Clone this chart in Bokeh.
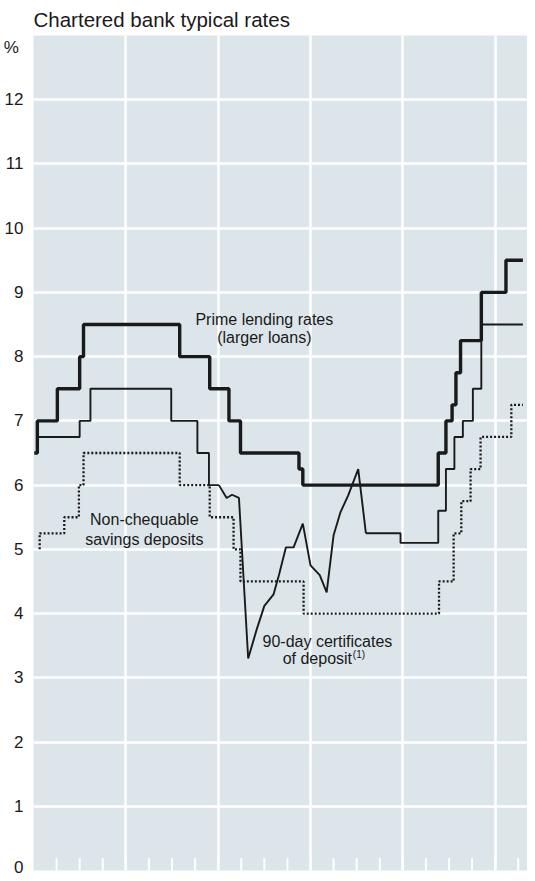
from bokeh.plotting import figure
from bokeh.models import FixedTicker, Label
from bokeh.embed import file_html
from bokeh.resources import INLINE

# ---- data (x = months from start of chart, y = percent) ----
prime_months = [0.1, 0.5, 3.1, 6.0, 6.5, 19.0, 22.9, 25.4, 26.9, 34.5, 35.0,
                52.6, 53.6, 54.4, 54.9, 55.5, 58.2, 61.4, 63.6]
prime_rates = [6.5, 7.0, 7.5, 8.0, 8.5, 8.0, 7.5, 7.0, 6.5, 6.25, 6.0,
               6.5, 7.0, 7.25, 7.75, 8.25, 9.0, 9.5, 9.5]

cd_early_months = [0.4, 6.0, 7.4, 17.9, 21.3, 22.8, 24.1]
cd_early_rates = [6.75, 7.0, 7.5, 7.0, 6.5, 6.0, 6.0]

cd_mid_months = [24.1, 25.1, 25.8, 26.7, 27.9, 29.0, 30.0, 31.2, 31.9, 32.8,
                 33.8, 35.0, 36.0, 37.2, 38.1, 39.0, 39.9, 40.9, 42.2, 43.2]
cd_mid_rates = [6.0, 5.8, 5.85, 5.8, 3.3, 3.75, 4.12, 4.3, 4.6, 5.03,
                5.03, 5.4, 4.75, 4.6, 4.33, 5.22, 5.58, 5.84, 6.25, 5.25]

cd_late_months = [43.2, 47.7, 52.6, 53.6, 54.7, 55.8, 57.1, 58.2, 63.6]
cd_late_rates = [5.25, 5.1, 5.6, 6.25, 6.75, 7.0, 7.5, 8.5, 8.5]

sav_months = [0.8, 0.8, 4.0, 5.9, 6.5, 19.0, 22.9, 26.0, 26.9, 35.1,
              52.7, 54.6, 55.6, 56.8, 58.1, 62.1, 63.6]
sav_rates = [5.0, 5.25, 5.5, 6.0, 6.5, 6.0, 5.5, 5.0, 4.5, 4.0,
             4.5, 5.25, 5.75, 6.25, 6.75, 7.25, 7.25]

y_ticks = list(range(0, 13))
unit_tick = 12.81          # where the "%" unit sits on the value axis
unit_label = "%"
year_lines = [12, 24, 36, 48, 60]
quarter_ticks = list(range(3, 64, 3))
notch_depth = 0.19         # in percent units

FONT = "Liberation Sans"
INK = "#1a1a1a"

p = figure(width=527, height=876, x_range=(0, 64.2), y_range=(0, 13),
           output_backend="svg", toolbar_location=None,
           title="Chartered bank typical rates",
           min_border_left=26, min_border_right=0, min_border_top=35,
           min_border_bottom=6)
p.title.text_font = FONT
p.title.text_font_size = "20.5px"
p.title.text_font_style = "normal"
p.title.text_color = INK
p.title.align = "left"
p.title.offset = 0
p.title.standoff = 10
p.title.text_line_height = 0.75

p.background_fill_color = "#dce5e9"
p.border_fill_color = "white"
p.outline_line_color = None

# grids
p.ygrid.ticker = FixedTicker(ticks=y_ticks[1:])
p.ygrid.grid_line_color = "white"
p.ygrid.grid_line_width = 2.5
p.xgrid.ticker = FixedTicker(ticks=year_lines)
p.xgrid.grid_line_color = "white"
p.xgrid.grid_line_width = 2.5

# y axis (numbers plus the unit sign)
p.yaxis.ticker = FixedTicker(ticks=y_ticks + [unit_tick])
p.yaxis.major_label_overrides = {unit_tick: unit_label + "\u00a0"}
p.yaxis.axis_line_color = None
p.yaxis.major_tick_line_color = None
p.yaxis.minor_tick_line_color = None
p.yaxis.major_label_standoff = 4
p.yaxis.major_label_text_font = FONT
p.yaxis.major_label_text_font_size = "17px"
p.yaxis.major_label_text_color = INK

p.xaxis.visible = False

# quarterly white notches along the bottom
p.segment(x0=quarter_ticks, y0=[0] * len(quarter_ticks),
          x1=quarter_ticks, y1=[notch_depth] * len(quarter_ticks),
          line_color="white", line_width=2)

# series
p.step(sav_months, sav_rates, mode="after", line_color=INK, line_width=2.3,
       line_dash="2 2")
p.step(cd_early_months, cd_early_rates, mode="after", line_color=INK, line_width=1.9)
p.line(cd_mid_months, cd_mid_rates, line_color=INK, line_width=1.9)
p.step(cd_late_months, cd_late_rates, mode="after", line_color=INK, line_width=1.9)
p.step(prime_months, prime_rates, mode="after", line_color=INK, line_width=3.4)

# texts
def lab(x, y, t, size="16px", align="center"):
    p.add_layout(Label(x=x, y=y, text=t, text_font=FONT, text_font_size=size,
                       text_color=INK, text_align=align, text_baseline="middle"))

lab(30.0, 8.58, "Prime lending rates")
lab(30.0, 8.30, "(larger loans)")
lab(14.4, 5.46, "Non-chequable")
lab(14.4, 5.16, "savings deposits")
lab(38.2, 3.56, "90-day certificates")
lab(41.4, 3.30, "of deposit", align="right")
lab(41.5, 3.36, "(1)", size="10px", align="left")

open("out.html", "w").write(file_html(p, INLINE))
